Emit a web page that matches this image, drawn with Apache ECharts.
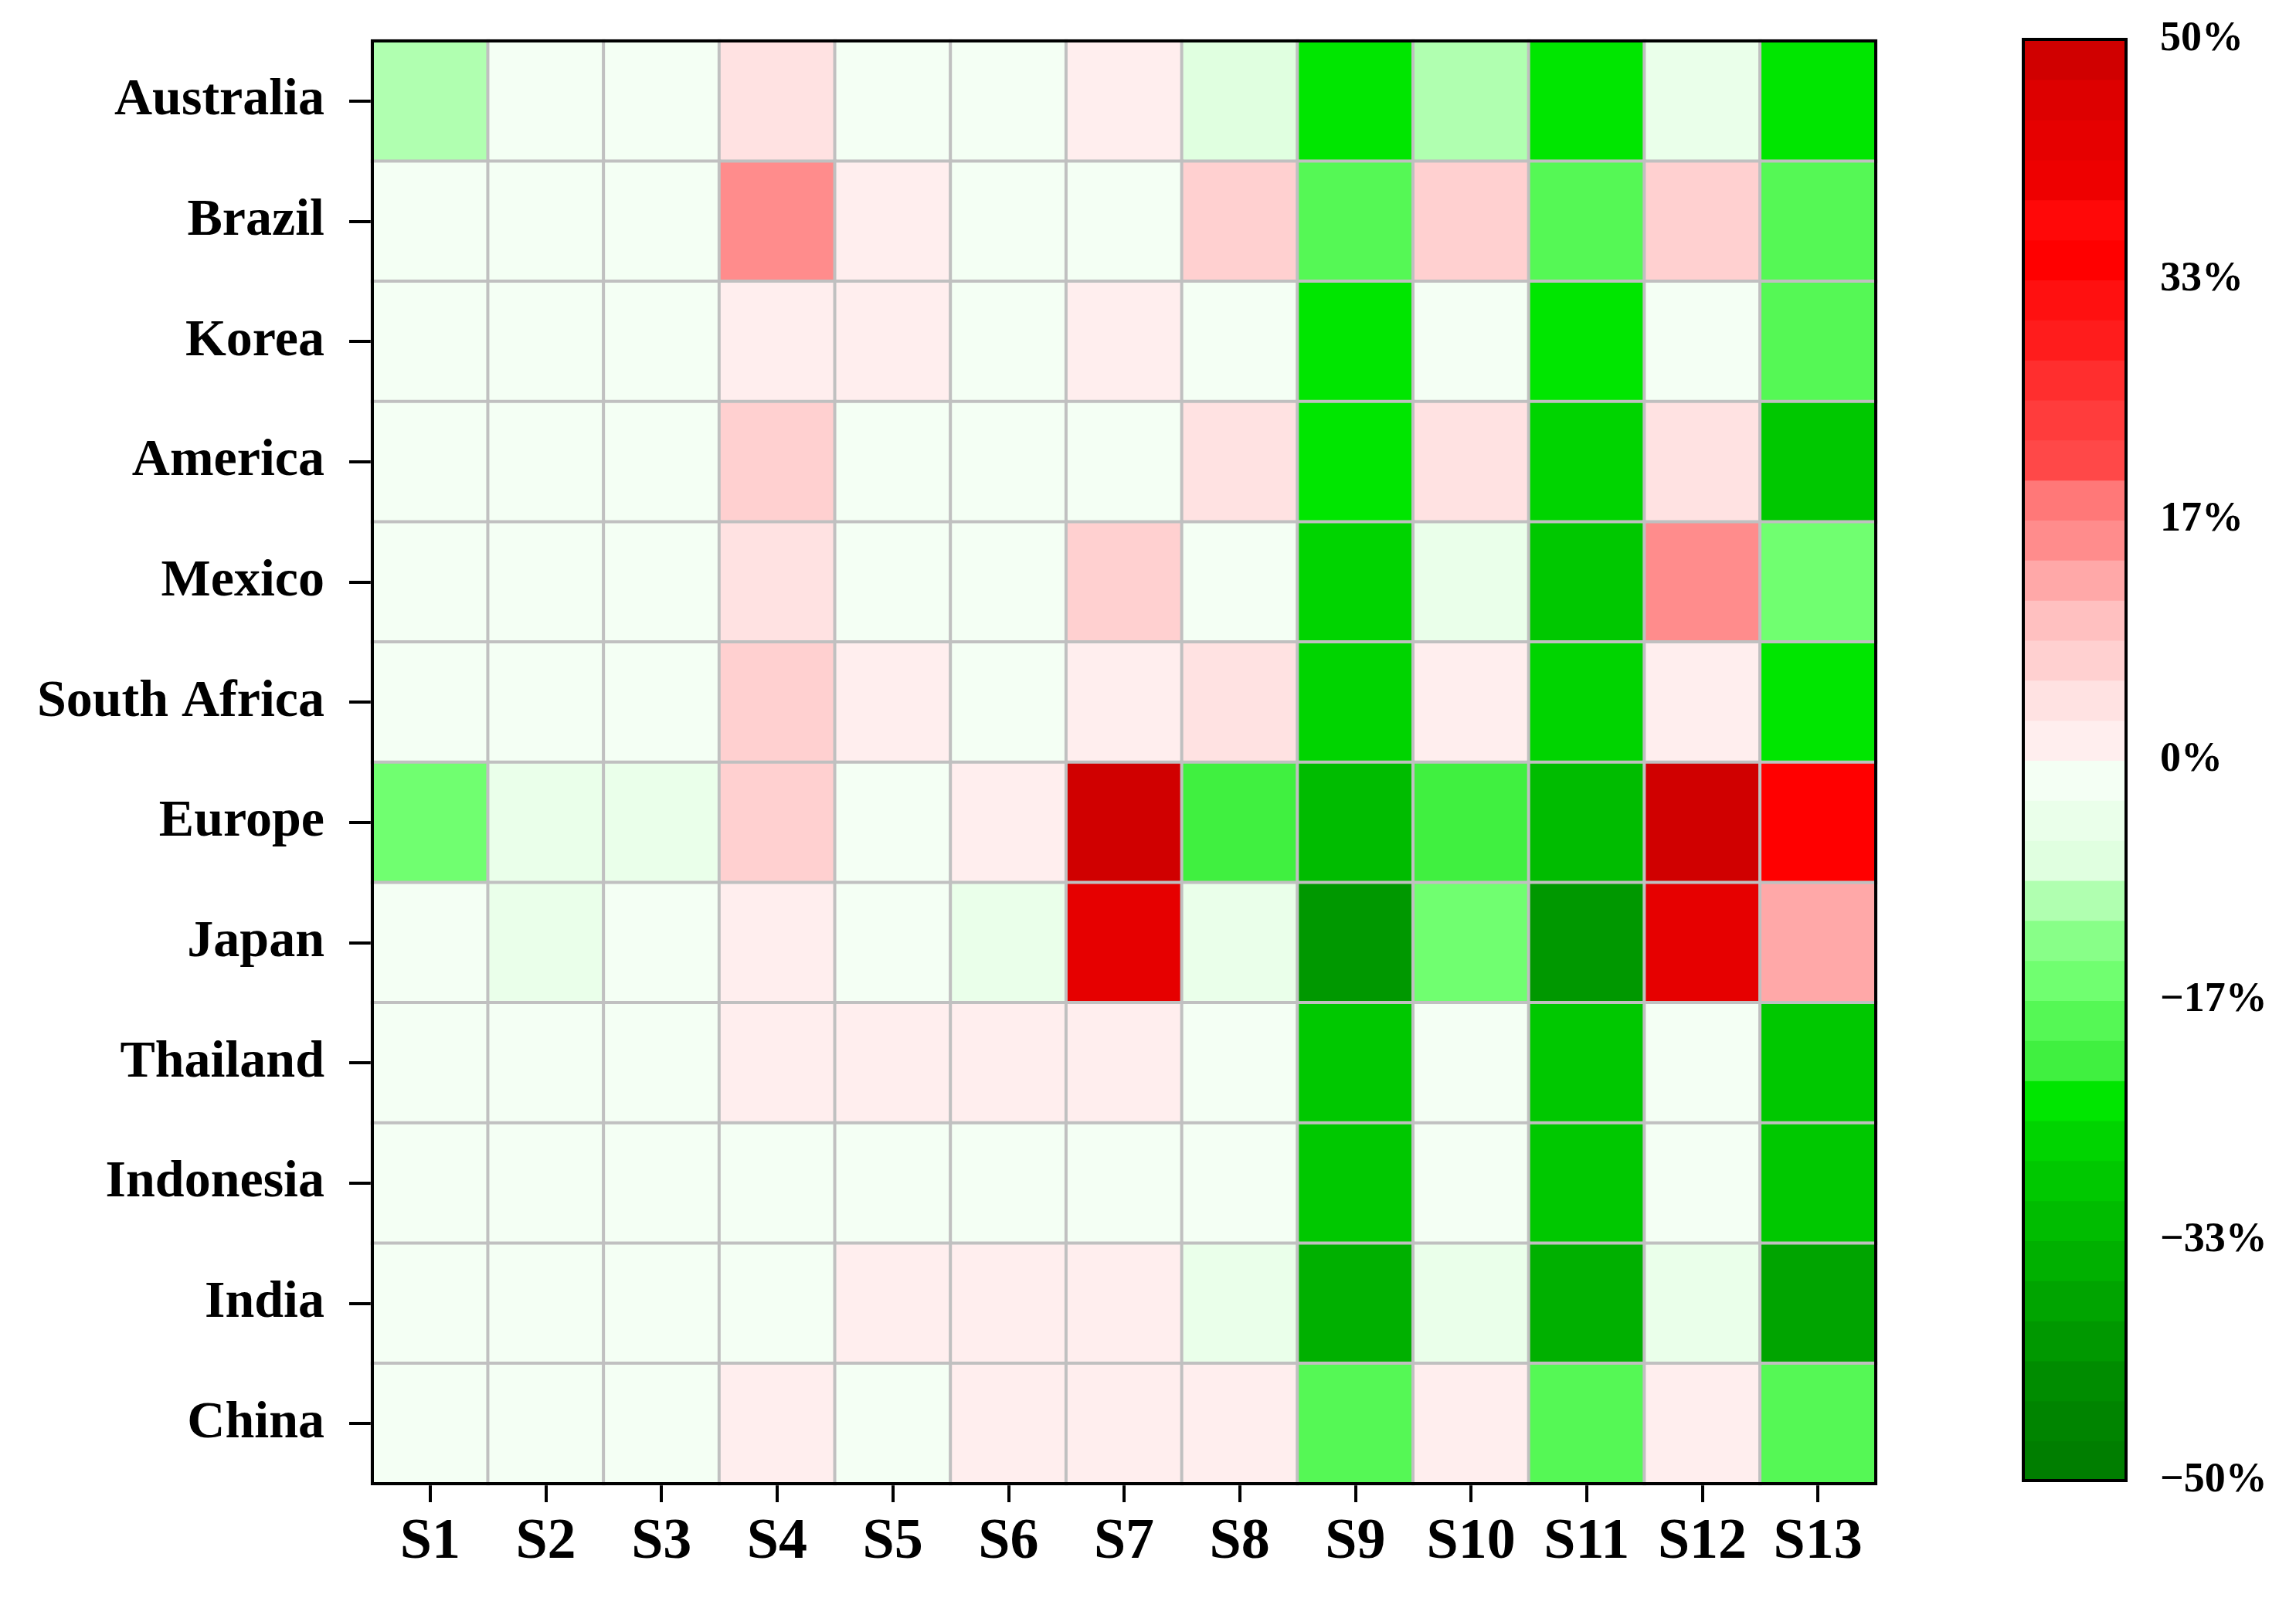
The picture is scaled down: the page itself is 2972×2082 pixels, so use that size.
<!DOCTYPE html>
<html><head><meta charset="utf-8">
<script src="https://cdn.jsdelivr.net/npm/echarts@6/dist/echarts.min.js"></script>
<style>html,body{margin:0;padding:0;background:#fff}#c{width:2972px;height:2082px}</style>
</head><body><div id="c"></div>
<script>
const categories = ['S1','S2','S3','S4','S5','S6','S7','S8','S9','S10','S11','S12','S13'];
const regions = ['Australia','Brazil','Korea','America','Mexico','South Africa','Europe','Japan','Thailand','Indonesia','India','China'];
const Australia = [-9,-1,-1,5,-1,-1,2,-6,-23,-9,-23,-5,-23];
const Brazil = [-1,-1,-1,15,2,-1,-1,8,-19,8,-19,8,-19];
const Korea = [-1,-1,-1,2,2,-1,2,-1,-23,-1,-23,-1,-19];
const America = [-1,-1,-1,8,-1,-1,-1,4,-23,4,-26,4,-28];
const Mexico = [-1,-1,-1,4,-1,-1,8,-1,-26,-4,-28,15,-15];
const SouthAfrica = [-1,-1,-1,6,2,-1,2,4,-26,2,-26,2,-23];
const Europe = [-15,-4,-4,7,-1,2,48,-20,-33,-20,-33,48,36];
const Japan = [-1,-4,-1,2,-1,-4,44,-5,-40,-15,-40,44,12];
const Thailand = [-1,-1,-1,2,2,2,2,-1,-28,-1,-28,-1,-30];
const Indonesia = [-1,-1,-1,-1,-1,-1,-1,-1,-28,-1,-28,-1,-28];
const India = [-1,-1,-1,-1,2,2,2,-5,-35,-4,-35,-4,-38];
const China = [-1,-1,-1,2,-1,2,2,2,-19,2,-19,2,-19];
const rows = [Australia,Brazil,Korea,America,Mexico,SouthAfrica,Europe,Japan,Thailand,Indonesia,India,China];
const colorTicks = [-50,-33,-17,0,17,33,50];
// 36 bins from -50 (bottom) to 50 (top)
const binColors = ['#007e00','#008400','#008c00','#009800','#00a400','#00b000','#00bc00','#00c800','#00d400','#00e600','#40f040','#55f855','#70ff70','#88ff88','#b0ffb0','#e0ffe0','#eaffea','#f4fff4',
 '#ffeeee','#ffe2e2','#ffd0d0','#ffc0c0','#ffa8a8','#ff8c8c','#ff7878','#ff4848','#ff3c3c','#ff2e2e','#ff1c1c','#ff1010','#ff0000','#ff0808','#ee0000','#e60000','#dd0000','#d00000'];
const binW = 100/36;
function colorOf(v){let i=Math.floor((v+50)/binW);i=Math.max(0,Math.min(35,i));return binColors[i];}

const heat=[];
rows.forEach((r,yi)=>r.forEach((v,xi)=>heat.push({value:[xi,yi,v],itemStyle:{color:colorOf(v)}})));
const bins=binColors.map((c,i)=>[-50+i*binW,-50+(i+1)*binW]);
const font='"Liberation Serif","DejaVu Serif",serif';
const G={l:482,t:53,w:1946,h:1868}, C={l:2619,t:51,w:133,h:1866};
const chart=echarts.init(document.getElementById('c'));
chart.setOption({
 animation:false,
 grid:[{left:G.l,top:G.t,width:G.w,height:G.h},{left:C.l,top:C.t,width:C.w,height:C.h}],
 xAxis:[{type:'category',data:categories,gridIndex:0,position:'bottom',
   axisLine:{lineStyle:{color:'#000',width:4}},axisTick:{show:true,interval:0,alignWithLabel:true,length:24,lineStyle:{color:'#000',width:4}},
   axisLabel:{interval:0,fontFamily:font,fontWeight:'bold',fontSize:74,color:'#000',margin:40}},
  {type:'value',gridIndex:1,min:0,max:1,show:false}],
 yAxis:[{type:'category',data:regions,inverse:true,gridIndex:0,
   axisLine:{lineStyle:{color:'#000',width:4}},axisTick:{show:true,interval:0,alignWithLabel:true,length:30,lineStyle:{color:'#000',width:4}},
   axisLabel:{interval:0,fontFamily:font,fontWeight:'bold',fontSize:68,color:'#000',margin:62}},
  {type:'value',gridIndex:1,min:-50,max:50,interval:100/6,position:'right',splitLine:{show:false},
   axisLine:{show:true,lineStyle:{color:'#000',width:4}},axisTick:{show:true,length:34,lineStyle:{color:'#000',width:3}},
   axisLabel:{fontFamily:font,fontWeight:'bold',fontSize:54,color:'#000',margin:44,
     formatter:v=>{const r=Math.round(v);return (r<0?'\u2212'+(-r):r)+'%';}}}],
 series:[
  {type:'heatmap',xAxisIndex:0,yAxisIndex:0,data:heat,itemStyle:{borderColor:'#c0c0c0',borderWidth:4}},
  {type:'custom',xAxisIndex:1,yAxisIndex:1,data:bins,
   renderItem:(p,api)=>{const a=api.coord([0,api.value(0)]),b=api.coord([1,api.value(1)]);
     return {type:'rect',shape:{x:a[0],y:b[1],width:b[0]-a[0],height:a[1]-b[1]+1},style:{fill:binColors[p.dataIndex]}};}}
 ],
 graphic:[{type:'rect',shape:{x:C.l,y:C.t,width:C.w,height:C.h},style:{fill:null,stroke:'#000',lineWidth:4},z:100},
  {type:'rect',shape:{x:G.l,y:G.t,width:G.w,height:G.h},style:{fill:null,stroke:'#000',lineWidth:4},z:100}]
});
</script></body></html>
